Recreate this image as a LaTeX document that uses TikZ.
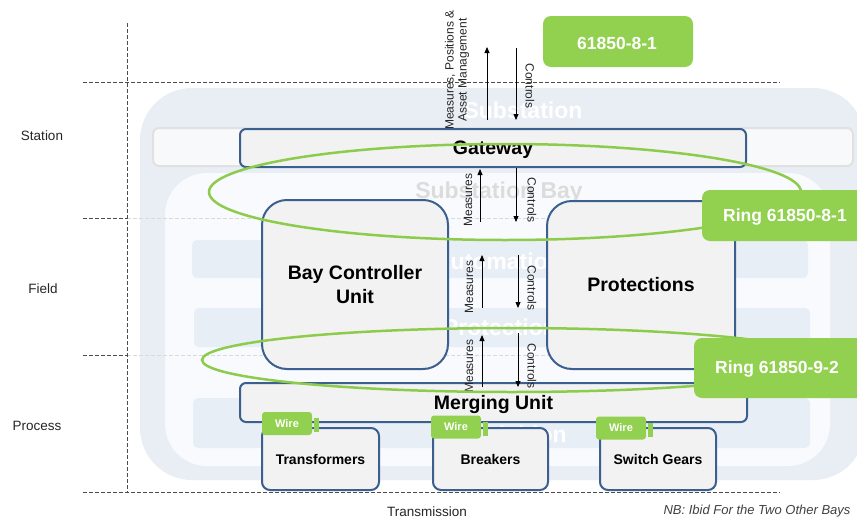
\documentclass[tikz,border=0pt]{standalone}
\usepackage{fontspec}
\setmainfont{Liberation Sans}
\usetikzlibrary{arrows.meta,shapes.geometric}
\definecolor{bgouter}{HTML}{E9EEF5}
\definecolor{bginner}{HTML}{F8FAFD}
\definecolor{bandc}{HTML}{E8EEF6}
\definecolor{boxfill}{HTML}{F2F2F2}
\definecolor{boxline}{HTML}{3B5F8E}
\definecolor{greenc}{HTML}{92D050}
\definecolor{ringc}{HTML}{8DCB4C}
\definecolor{stationfill}{HTML}{F8F9FB}
\definecolor{stationline}{HTML}{E1E1E1}
\definecolor{baytext}{HTML}{DCDCDC}
\begin{document}
\begin{tikzpicture}[x=1pt,y=-1pt,
  mainbox/.style={draw=boxline, line width=2pt, fill=boxfill, rounded corners=#1, inner sep=0pt, font=\fontsize{19.5}{24}\selectfont\bfseries, align=center},
  mainbox/.default=6pt,
  devbox/.style={draw=boxline, line width=2pt, fill=boxfill, rounded corners=8pt, inner sep=0pt, minimum height=62pt, font=\fontsize{14}{17}\selectfont\bfseries},
  greenbox/.style={fill=greenc, rounded corners=8pt, inner sep=0pt},
  greentext/.style={text=white, font=\fontsize{17.5}{21}\selectfont\bfseries},
  wiretag/.style={fill=greenc, rounded corners=3pt, inner sep=0pt, minimum width=50pt, minimum height=23pt, text=white, font=\fontsize{11}{13}\selectfont\bfseries},
  wiresq/.style={fill=greenc, inner sep=0pt, minimum width=5pt, minimum height=14pt},
  arr/.style={-{Triangle[length=6pt,width=5pt]}, line width=0.8pt, draw=black},
  arrlab/.style={font=\fontsize{12}{13}\selectfont, text=black!85, inner sep=0pt, align=center},
  bgtext/.style={font=\fontsize{23}{27}\selectfont\bfseries, inner sep=0pt},
  dline/.style={draw=black!70, dash pattern=on 4pt off 2pt, line width=0.8pt},
  fline/.style={draw=black!15, dash pattern=on 4pt off 2pt, line width=0.6pt},
  sidelab/.style={font=\fontsize{13.5}{16}\selectfont, text=black!85},
  ring/.style={draw=ringc, line width=2.5pt}
]
\useasboundingbox[fill=white] (0,0) rectangle (857,522);

% background containers
\fill[bgouter, rounded corners=52pt] (140,88) rectangle (865,480);
\draw[stationline, fill=stationfill, line width=2pt, rounded corners=6pt] (153,128) rectangle (853,166);
\fill[bginner, rounded corners=42pt] (165,173) rectangle (830,466);
\fill[bandc, rounded corners=5pt] (192,240) rectangle (808,278);
\fill[bandc, rounded corners=5pt] (194,308) rectangle (810,347);
\fill[bandc, rounded corners=5pt] (193,398) rectangle (810,448);

% faint level lines
\draw[fline] (127,218) -- (830,218);
\draw[fline] (127,355) -- (830,355);

% background titles
\node[bgtext, text=white] (tsub) at (523,110) {Substation};
\node[bgtext, text=baytext] (tbay) at (499,193) {Substation Bay};
\node[bgtext, text=white] (tauto) at (498,261) {Automation};
\node[bgtext, text=white] (tprot) at (500,327) {Protection};
\node[bgtext, text=white] (tacq) at (504,437) {Acquisition};

% level grid
\draw[dline] (83,82) -- (780,82);
\draw[dline] (83,218) -- (127,218);
\draw[dline] (83,355) -- (127,355);
\draw[dline] (83,492) -- (780,492);
\draw[dline] (127,23) -- (127,492);
\node[sidelab] (lst) at (42,136) {Station};
\node[sidelab] (lfi) at (43,289) {Field};
\node[sidelab] (lpr) at (37,426) {Process};
\node[sidelab] (ltr) at (427,512) {Transmission};
\node[font=\fontsize{13}{15}\selectfont\itshape, text=black!75] (lnb) at (757,511) {NB: Ibid For the Two Other Bays};

% main boxes
\node[mainbox, text depth=0pt, minimum width=506pt, minimum height=38pt] (gw) at (493,148) {Gateway};
\node[mainbox=25pt, minimum width=186pt, minimum height=169pt] (bcu) at (355,284.5) {Bay Controller\\Unit};
\node[mainbox=25pt, minimum width=188pt, minimum height=168pt] (prot) at (641,285) {Protections};
\node[mainbox, text depth=0pt, minimum width=507pt, minimum height=39pt] (mu) at (493.5,402.5) {Merging Unit};
\node[devbox, minimum width=117pt] (tra) at (320.5,459) {Transformers};
\node[devbox, minimum width=115pt] (brk) at (490.5,459) {Breakers};
\node[devbox, minimum width=116pt] (swg) at (658,459) {Switch Gears};

% arrows
\coordinate (u1a) at (487,120); \coordinate (u1b) at (487,47);
\coordinate (d1a) at (516,48);  \coordinate (d1b) at (516,120);
\coordinate (u2a) at (480,222); \coordinate (u2b) at (480,169);
\coordinate (d2a) at (516,168); \coordinate (d2b) at (516,222);
\coordinate (u3a) at (482,308); \coordinate (u3b) at (482,255);
\coordinate (d3a) at (518,255); \coordinate (d3b) at (518,308);
\coordinate (u4a) at (482,387); \coordinate (u4b) at (482,335);
\coordinate (d4a) at (518,333); \coordinate (d4b) at (518,387);
\draw[arr] (u1a) -- (u1b);
\draw[arr] (d1a) -- (d1b);
\draw[arr] (u2a) -- (u2b);
\draw[arr] (d2a) -- (d2b);
\draw[arr] (u3a) -- (u3b);
\draw[arr] (d3a) -- (d3b);
\draw[arr] (u4a) -- (u4b);
\draw[arr] (d4a) -- (d4b);
\node[arrlab, rotate=90] (m1) at (457,70) {Measures, Positions \&\\Asset Management};
\node[arrlab, rotate=-90] (c1) at (530,86) {Controls};
\node[arrlab, rotate=90] (m2) at (468,200) {Measures};
\node[arrlab, rotate=-90] (c2) at (532,200) {Controls};
\node[arrlab, rotate=90] (m3) at (469,287) {Measures};
\node[arrlab, rotate=-90] (c3) at (532,288) {Controls};
\node[arrlab, rotate=90] (m4) at (469,366) {Measures};
\node[arrlab, rotate=-90] (c4) at (532,366) {Controls};

% rings
\draw[ring] (505,192) ellipse [x radius=296pt, y radius=48pt];
\draw[ring] (512,360) ellipse [x radius=310pt, y radius=32pt];

% green labels
\node[greenbox, minimum width=150pt, minimum height=51pt] (std) at (618,41.5) {};
\node[greentext] (stdt) at (617,43) {61850-8-1};
\node[greenbox, minimum width=168pt, minimum height=51pt] (r1) at (786,215.5) {};
\node[greentext] (r1t) at (785,217) {Ring 61850-8-1};
\node[greenbox, minimum width=176pt, minimum height=60pt] (r2) at (782,368) {};
\node[greentext] (r2t) at (777,369) {Ring 61850-9-2};

% wires
\node[wiretag] (w1) at (287,423.5) {Wire};
\node[wiresq] (s1) at (316.5,425) {};
\node[wiretag] (w2) at (456,427) {Wire};
\node[wiresq] (s2) at (485.5,428.5) {};
\node[wiretag] (w3) at (621,428) {Wire};
\node[wiresq] (s3) at (650.5,429.5) {};
\end{tikzpicture}
\end{document}
